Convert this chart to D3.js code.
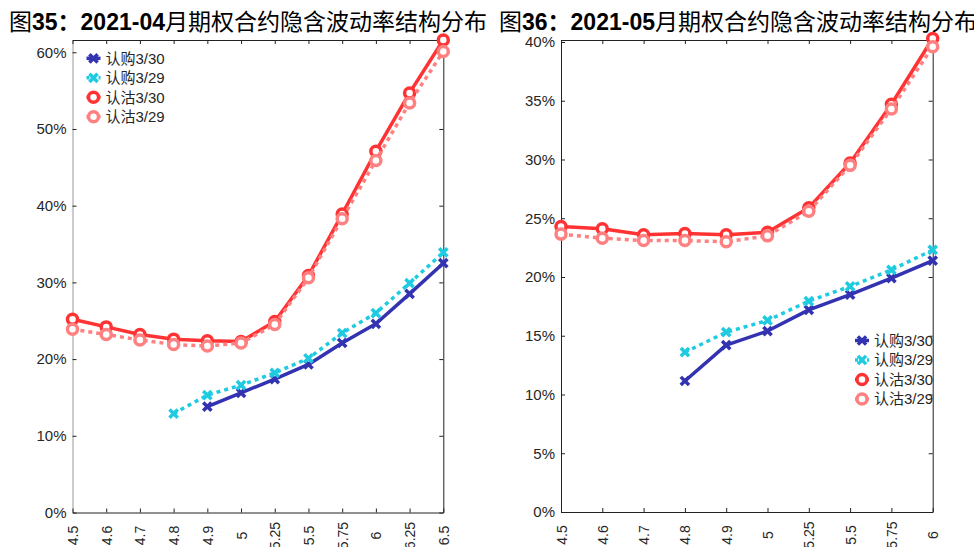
<!DOCTYPE html>
<html>
<head>
<meta charset="utf-8">
<script src="https://cdn.jsdelivr.net/npm/d3@7"></script>
<style>
  body { margin: 0; background: #fff; }
  svg { display: block; }
  text { font-family: "Liberation Sans", Arial, "Noto Sans CJK SC", sans-serif; }
</style>
</head>
<body>
<svg id="chart"></svg>
<script>
// ---- data (implied vol, %) ----
var strikes04 = ["4.5","4.6","4.7","4.8","4.9","5","5.25","5.5","5.75","6","6.25","6.5"];
var call0330_04 = [null,null,null,null,13.8,15.6,17.4,19.3,22.1,24.6,28.5,32.5];
var call0329_04 = [null,null,null,12.9,15.3,16.6,18.2,20.1,23.4,26.0,29.9,33.9];
var put0330_04  = [25.2,24.2,23.2,22.6,22.4,22.3,24.9,30.9,38.9,47.1,54.7,61.6];
var put0329_04  = [23.9,23.2,22.5,21.9,21.7,22.1,24.5,30.6,38.3,45.9,53.4,60.1];
var yTicks04 = [0,10,20,30,40,50,60];

var strikes05 = ["4.5","4.6","4.7","4.8","4.9","5","5.25","5.5","5.75","6"];
var call0330_05 = [null,null,null,11.15,14.2,15.4,17.2,18.5,19.9,21.4];
var call0329_05 = [null,null,null,13.6,15.3,16.3,17.95,19.2,20.6,22.3];
var put0330_05  = [24.3,24.1,23.6,23.7,23.6,23.8,25.9,29.7,34.7,40.3];
var put0329_05  = [23.65,23.3,23.1,23.1,23.0,23.5,25.6,29.5,34.3,39.6];
var yTicks05 = [0,5,10,15,20,25,30,35,40];

var seriesNames = ["认购3/30","认购3/29","认购3/30","认沽3/29"];
seriesNames[2] = "认沽3/30";

var styles = [
  {color: "#3333b2", dash: null, marker: "x"},
  {color: "#1fcbe0", dash: "4,4", marker: "x"},
  {color: "#ff3333", dash: null, marker: "o"},
  {color: "#ff8080", dash: "4,4", marker: "o"}
];

var svg = d3.select("#chart")
    .attr("width", 974)
    .attr("height", 547);

svg.append("rect").attr("width", 974).attr("height", 547).attr("fill", "#fff");

var xMark = d3.symbol().type(d3.symbolX).size(46);

function drawMarker(sel, st) {
  if (st.marker === "x") {
    sel.append("path")
      .attr("d", xMark)
      .attr("fill", "none")
      .attr("stroke", st.color)
      .attr("stroke-width", 3.5);
  } else {
    sel.append("circle")
      .attr("r", 5)
      .attr("fill", "#fff")
      .attr("stroke", st.color)
      .attr("stroke-width", 3.5);
  }
}

function drawPanel(p) {
  var x = d3.scalePoint().domain(p.cats).range([p.left, p.right]);
  var y = d3.scaleLinear().domain([0, p.yMax]).range([p.bottom, p.top]);

  var g = svg.append("g");

  // title
  var t = g.append("text")
      .attr("x", p.titleX)
      .attr("y", 29.5)
      .attr("font-size", 23)
      .attr("fill", "#000");
  t.append("tspan").text("图");
  t.append("tspan").attr("font-weight", "bold").text(p.num + "：" + p.month);
  t.append("tspan").text("月期权合约隐含波动率结构分布");

  // box axes, ticks pointing in
  var yAxis = d3.axisLeft(y).tickValues(p.yTicks)
      .tickFormat(d => d + "%").tickSizeInner(-4).tickSizeOuter(0).tickPadding(6);
  var gy = g.append("g").attr("transform", "translate(" + p.left + ",0)").call(yAxis);
  gy.select(".domain").attr("stroke", p.leftColor);
  gy.selectAll(".tick line").attr("stroke", "#222");
  gy.selectAll(".tick text").attr("font-size", 15).attr("fill", "#262626");

  var gyr = g.append("g").attr("transform", "translate(" + p.right + ",0)")
      .call(d3.axisRight(y).tickValues(p.yTicks).tickFormat("").tickSizeInner(-4).tickSizeOuter(0));
  gyr.selectAll("line, path").attr("stroke", "#222");

  var gxt = g.append("g").attr("transform", "translate(0," + p.top + ")")
      .call(d3.axisTop(x).tickFormat("").tickSizeInner(-4).tickSizeOuter(0));
  gxt.selectAll("line, path").attr("stroke", "#222");

  var gx = g.append("g").attr("transform", "translate(0," + p.bottom + ")")
      .call(d3.axisBottom(x).tickSizeInner(-4).tickSizeOuter(0));
  gx.selectAll("line, path").attr("stroke", "#222");
  gx.selectAll(".tick text")
      .attr("font-size", 14)
      .attr("fill", "#262626")
      .attr("text-anchor", "middle")
      .attr("dy", null)
      .attr("y", null)
      .attr("transform", "translate(0,23) rotate(-90)")
      .attr("dominant-baseline", "central");

  // series
  p.series.forEach(function(vals, i) {
    var st = styles[i];
    var pts = vals.map((v, j) => ({cat: p.cats[j], v: v})).filter(d => d.v != null);
    var line = d3.line().x(d => x(d.cat)).y(d => y(d.v));
    g.append("path")
      .attr("d", line(pts))
      .attr("fill", "none")
      .attr("stroke", st.color)
      .attr("stroke-width", 3.5)
      .attr("stroke-linejoin", "round")
      .attr("stroke-dasharray", st.dash);
    g.append("g").selectAll("g")
      .data(pts).enter().append("g")
      .attr("transform", d => "translate(" + x(d.cat) + "," + y(d.v) + ")")
      .each(function() { drawMarker(d3.select(this), st); });
  });

  // legend
  var lg = g.append("g").attr("transform", "translate(" + p.legX + "," + p.legY + ")");
  seriesNames.forEach(function(name, i) {
    var st = styles[i];
    var row = lg.append("g").attr("transform", "translate(0," + (i * 19.5) + ")");
    row.append("line")
      .attr("x1", -7).attr("x2", 7)
      .attr("stroke", st.color).attr("stroke-width", 3.5)
      .attr("stroke-dasharray", st.dash ? "3,3" : null);
    drawMarker(row, st);
    row.append("text")
      .attr("x", 12)
      .attr("dy", "0.35em")
      .attr("font-size", 15)
      .attr("fill", "#262626")
      .text(name);
  });
}

drawPanel({
  cats: strikes04, left: 72.5, right: 443.3, top: 40, bottom: 512.5, yMax: 61.6,
  yTicks: yTicks04, titleX: 9, num: "35", month: "2021-04", leftColor: "#999",
  series: [call0330_04, call0329_04, put0330_04, put0329_04],
  legX: 93.5, legY: 58.3
});

drawPanel({
  cats: strikes05, left: 561, right: 932.7, top: 40, bottom: 512, yMax: 40.17,
  yTicks: yTicks05, titleX: 499, num: "36", month: "2021-05", leftColor: "#222",
  series: [call0330_05, call0329_05, put0330_05, put0329_05],
  legX: 862, legY: 340.5
});
</script>
</body>
</html>
